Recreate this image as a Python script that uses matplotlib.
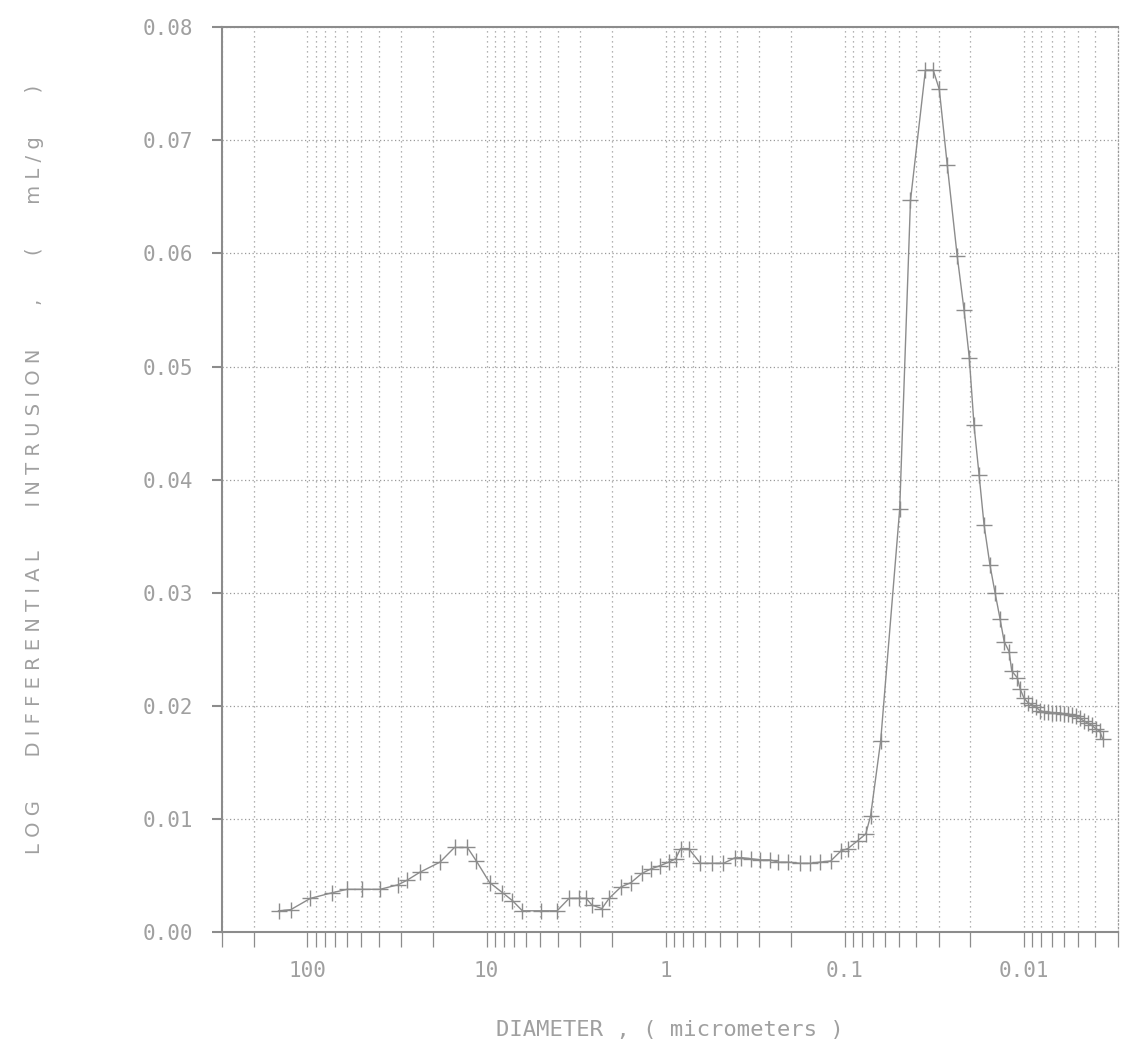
import numpy as np
import matplotlib.pyplot as plt
from matplotlib.ticker import LogLocator, FixedLocator, NullFormatter

# Pore diameter (micrometers) and log differential intrusion (mL/g)
diameter = [145, 124, 96.2, 72.6, 60.0, 49.5, 39.3, 31.2, 27.8, 23.6, 18.2,
            15.1, 12.8, 11.4, 9.62, 8.15, 7.17, 6.31, 4.95, 4.04, 3.46, 3.04,
            2.78, 2.58, 2.27, 2.07, 1.78, 1.56, 1.36, 1.21, 1.07, 0.962, 0.880,
            0.826, 0.745, 0.640, 0.555, 0.476, 0.408, 0.378, 0.333, 0.297,
            0.261, 0.236, 0.207, 0.178, 0.156, 0.138, 0.120, 0.105, 0.0962,
            0.0847, 0.0764, 0.0718, 0.0631, 0.0494, 0.0430, 0.0355, 0.0321,
            0.0297, 0.0268, 0.0236, 0.0216, 0.0202, 0.0190, 0.0178, 0.0167,
            0.0155, 0.0145, 0.0136, 0.0129, 0.0121, 0.0117, 0.0109, 0.0105,
            0.0100, 0.00950, 0.00903, 0.00858, 0.00815, 0.00774, 0.00736,
            0.00699, 0.00664, 0.00631, 0.00599, 0.00570, 0.00541, 0.00514,
            0.00489, 0.00464, 0.00441, 0.00419, 0.00398, 0.00378, 0.00364]
intrusion = [0.0019, 0.0020, 0.0030, 0.0035, 0.0038, 0.0038, 0.0038, 0.0042,
             0.0046, 0.0053, 0.0062, 0.0075, 0.0075, 0.0063, 0.0044, 0.0035,
             0.0028, 0.0019, 0.0019, 0.0019, 0.0030, 0.0030, 0.0030, 0.0024,
             0.0021, 0.0030, 0.0040, 0.0044, 0.0052, 0.0056, 0.0059, 0.0062,
             0.0065, 0.0074, 0.0074, 0.0061, 0.0061, 0.0061, 0.0066, 0.0066,
             0.0065, 0.0064, 0.0064, 0.0062, 0.0062, 0.0061, 0.0061, 0.0062,
             0.0063, 0.0072, 0.0074, 0.0081, 0.0087, 0.0103, 0.0169, 0.0374,
             0.0647, 0.0762, 0.0762, 0.0745, 0.0678, 0.0598, 0.0550, 0.0508,
             0.0448, 0.0404, 0.0360, 0.0325, 0.0300, 0.0277, 0.0257, 0.0248,
             0.0231, 0.0225, 0.0215, 0.0207, 0.0203, 0.0201, 0.0199, 0.0196,
             0.0195, 0.0195, 0.0194, 0.0194, 0.0194, 0.0193, 0.0193, 0.0192,
             0.0191, 0.0189, 0.0187, 0.0185, 0.0183, 0.0180, 0.0178, 0.0171]

x_major = [100, 10, 1, 0.1, 0.01]
x_labels = ['100', '10', '1', '0.1', '0.01']
y_major = [0.00, 0.01, 0.02, 0.03, 0.04, 0.05, 0.06, 0.07, 0.08]

grey = '#8c8c8c'
txt = '#a0a0a0'
mono = 'DejaVu Sans Mono'

fig = plt.figure(figsize=(11.21, 10.44), dpi=100)
ax = fig.add_axes([0.198, 0.107, 0.799, 0.867])

ax.plot(diameter, intrusion, color=grey, lw=1.0, marker='+', ms=11,
        mew=1.0, zorder=3)

ax.set_xscale('log')
ax.set_xlim(300, 0.003)
ax.set_ylim(0, 0.08)

ax.xaxis.set_major_locator(FixedLocator(x_major))
ax.set_xticklabels(x_labels)
ax.xaxis.set_minor_locator(LogLocator(base=10, subs=np.arange(2, 10)))
ax.xaxis.set_minor_formatter(NullFormatter())
ax.set_yticks(y_major)
ax.set_yticklabels(['%.2f' % v for v in y_major])

# dotted grid everywhere like the old plotter output
ax.grid(True, which='both', axis='x', ls=(0, (1, 3)), color='#9a9a9a', lw=0.9)
ax.grid(True, which='major', axis='y', ls=(0, (1, 2)), color='#9a9a9a', lw=0.9)

ax.tick_params(axis='x', which='both', direction='out', length=11,
               width=0.9, color=grey, pad=10)
ax.tick_params(axis='y', which='major', direction='out', length=7,
               width=1.5, color=grey, pad=14)
for lab in ax.get_xticklabels() + ax.get_yticklabels():
    lab.set_fontfamily(mono)
    lab.set_fontsize(15)
    lab.set_color(txt)

for side in ['left', 'bottom', 'top']:
    ax.spines[side].set_color(grey)
    ax.spines[side].set_linewidth(1.5)
ax.spines['right'].set_color('#9a9a9a')
ax.spines['right'].set_linestyle((0, (1, 2)))
ax.spines['right'].set_linewidth(0.9)

ax.set_xlabel('DIAMETER , ( micrometers )', family=mono, fontsize=16,
              color=txt, labelpad=28)
gap = ' ' * 7
ylab = gap.join(['L O G', 'D I F F E R E N T I A L', 'I N T R U S I O N',
                 ',', '(', 'm L / g', ')'])
fig.text(0.031, 0.55, ylab, rotation=90, ha='center', va='center',
         family='DejaVu Sans', fontsize=14, color=txt)

plt.savefig('out.png', dpi=100)
